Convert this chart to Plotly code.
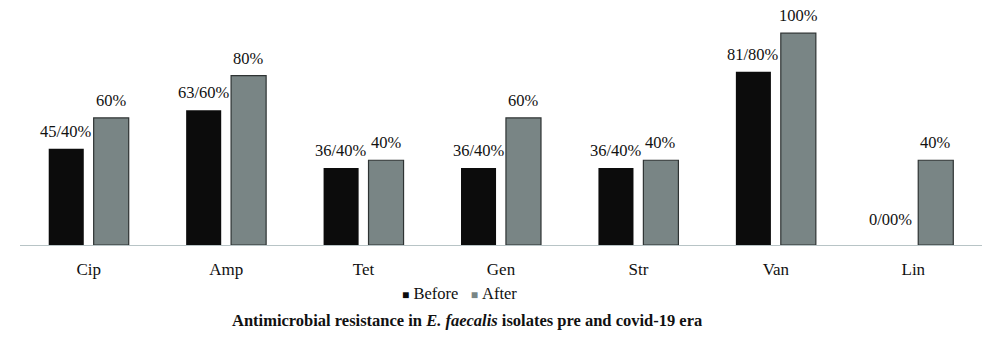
import plotly.graph_objects as go

categories = ["Cip", "Amp", "Tet", "Gen", "Str", "Van", "Lin"]
before_vals = [45.4, 63.6, 36.4, 36.4, 36.4, 81.8, 0.0]
after_vals = [60, 80, 40, 60, 40, 100, 40]
before_labels = ["45/40%", "63/60%", "36/40%", "36/40%", "36/40%", "81/80%", "0/00%"]
after_labels = ["60%", "80%", "40%", "60%", "40%", "100%", "40%"]

FONT = "Liberation Serif"
C_BEFORE = "#0c0c0c"
C_AFTER = "#798585"

fig = go.Figure()
fig.add_trace(go.Bar(
    name="Before", x=categories, y=before_vals,
    marker=dict(color=C_BEFORE, line=dict(width=0)),
    offset=-0.291, width=0.255, showlegend=False,
))
fig.add_trace(go.Bar(
    name="After", x=categories, y=after_vals,
    marker=dict(color=C_AFTER, line=dict(color="#2e3333", width=1.2)),
    offset=0.036, width=0.255, showlegend=False,
))

annotations = []
for cat, v, lab in zip(categories, before_vals, before_labels):
    annotations.append(dict(x=cat, y=v, text=lab, xref="x", yref="y", showarrow=False,
                            xanchor="center", yanchor="bottom", xshift=-22.5,
                            yshift=6 if v > 0 else 14,
                            font=dict(family=FONT, size=16.5, color="#111")))
for cat, v, lab in zip(categories, after_vals, after_labels):
    annotations.append(dict(x=cat, y=v, text=lab, xref="x", yref="y", showarrow=False,
                            xanchor="center", yanchor="bottom", xshift=22.5, yshift=6,
                            font=dict(family=FONT, size=16.5, color="#111")))

legend_text = (f"<span style='color:{C_BEFORE};font-size:12px'>■</span>&nbsp;Before&nbsp;&nbsp;&nbsp;"
               f"<span style='color:{C_AFTER};font-size:12px'>■</span>&nbsp;After")
annotations.append(dict(
    text=legend_text, xref="paper", yref="paper", x=0.457, y=-0.16,
    xanchor="center", yanchor="top", showarrow=False,
    font=dict(family=FONT, size=16.5, color="#111")))
annotations.append(dict(
    text="<b>Antimicrobial resistance in <i>E. faecalis</i> isolates pre and covid-19 era</b>",
    xref="paper", yref="paper", x=0.465, y=-0.275, xanchor="center", yanchor="top",
    showarrow=False, font=dict(family=FONT, size=16.5, color="#111")))

fig.update_layout(
    width=1000, height=352,
    margin=dict(l=20, r=18, t=12, b=107),
    paper_bgcolor="white", plot_bgcolor="white",
    font=dict(family=FONT, size=16, color="#111"),
    showlegend=False,
    annotations=annotations,
)
fig.update_xaxes(
    showline=True, linecolor="#b8c4c6", linewidth=1.2, showgrid=False,
    ticks="", tickfont=dict(family=FONT, size=17, color="#111"),
    ticklabelstandoff=8, range=[-0.5, 6.5],
)
fig.update_yaxes(visible=False, range=[0, 110], showgrid=False, zeroline=False)

fig.write_html("out.html")
